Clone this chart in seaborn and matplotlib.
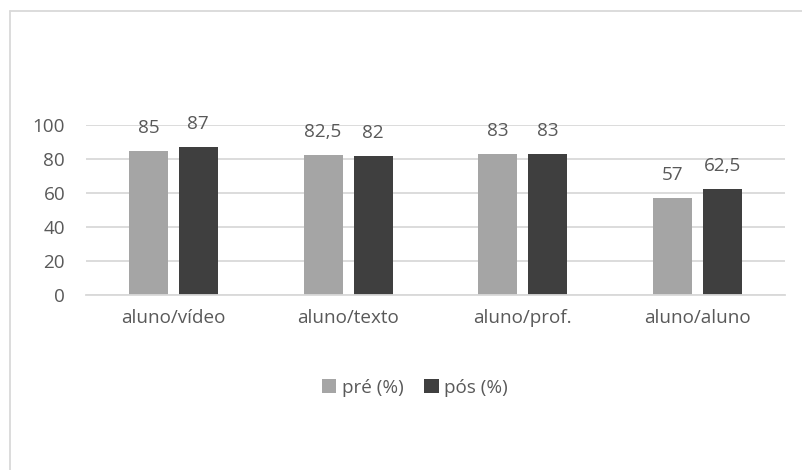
import matplotlib
matplotlib.use("Agg")
import matplotlib.pyplot as plt
import seaborn as sns
import pandas as pd
from matplotlib.lines import Line2D

categories = ["aluno/vídeo", "aluno/texto", "aluno/prof.", "aluno/aluno"]
pre_values = [85, 82.5, 83, 57]
pos_values = [87, 82, 83, 62.5]
series_names = ["pré (%)", "pós (%)"]
y_ticks = [0, 20, 40, 60, 80, 100]

sns.set_theme(style="white")
plt.rcParams["font.family"] = ["Open Sans", "DejaVu Sans"]
text_color = "#595959"
grid_color = "#d9d9d9"
fs = 13.6

df = pd.DataFrame({
    "cat": categories * 2,
    "val": pre_values + pos_values,
    "serie": [series_names[0]] * 4 + [series_names[1]] * 4,
})

fig = plt.figure(figsize=(8.02, 4.70), dpi=100)
ax = fig.add_axes([0.1072, 0.3723, 0.8716, 0.3617])

sns.barplot(data=df, x="cat", y="val", hue="serie", order=categories,
            hue_order=series_names, palette=["#a5a5a5", "#3f3f3f"],
            width=0.572, gap=0.22, ax=ax, errorbar=None, saturation=1,
            edgecolor="none", linewidth=0)

for cont in ax.containers:
    labels = [("%g" % b.get_height()).replace(".", ",") for b in cont]
    ax.bar_label(cont, labels=labels, padding=10, fontsize=fs, color=text_color)

ax.set_ylim(0, 100)
ax.set_yticks(y_ticks)
ax.set_xlim(-0.5, 3.5)
ax.yaxis.grid(True, color=grid_color, linewidth=1.3)
ax.set_axisbelow(True)
for s in ["top", "right", "left"]:
    ax.spines[s].set_visible(False)
ax.spines["bottom"].set_color(grid_color)
ax.spines["bottom"].set_linewidth(1.3)
ax.tick_params(axis="y", length=0, pad=15, labelsize=fs, labelcolor=text_color)
ax.tick_params(axis="x", length=0, pad=10, labelsize=fs, labelcolor=text_color)
ax.set_xlabel("")
ax.set_ylabel("")

leg = ax.legend(loc="center", ncol=2, frameon=False, fontsize=fs,
                handlelength=0.75, handleheight=0.75, handletextpad=0.3,
                columnspacing=1.1, labelcolor=text_color)
leg.set_bbox_to_anchor((415 / 802, 1 - 388 / 470), transform=fig.transFigure)

fig.add_artist(Line2D([9.5 / 802, 9.5 / 802], [0, 1 - 10.5 / 470],
                      transform=fig.transFigure, color=grid_color, linewidth=1.3))
fig.add_artist(Line2D([9.5 / 802, 1], [1 - 10.5 / 470, 1 - 10.5 / 470],
                      transform=fig.transFigure, color=grid_color, linewidth=1.3))

fig.savefig("out.png", dpi=100)
